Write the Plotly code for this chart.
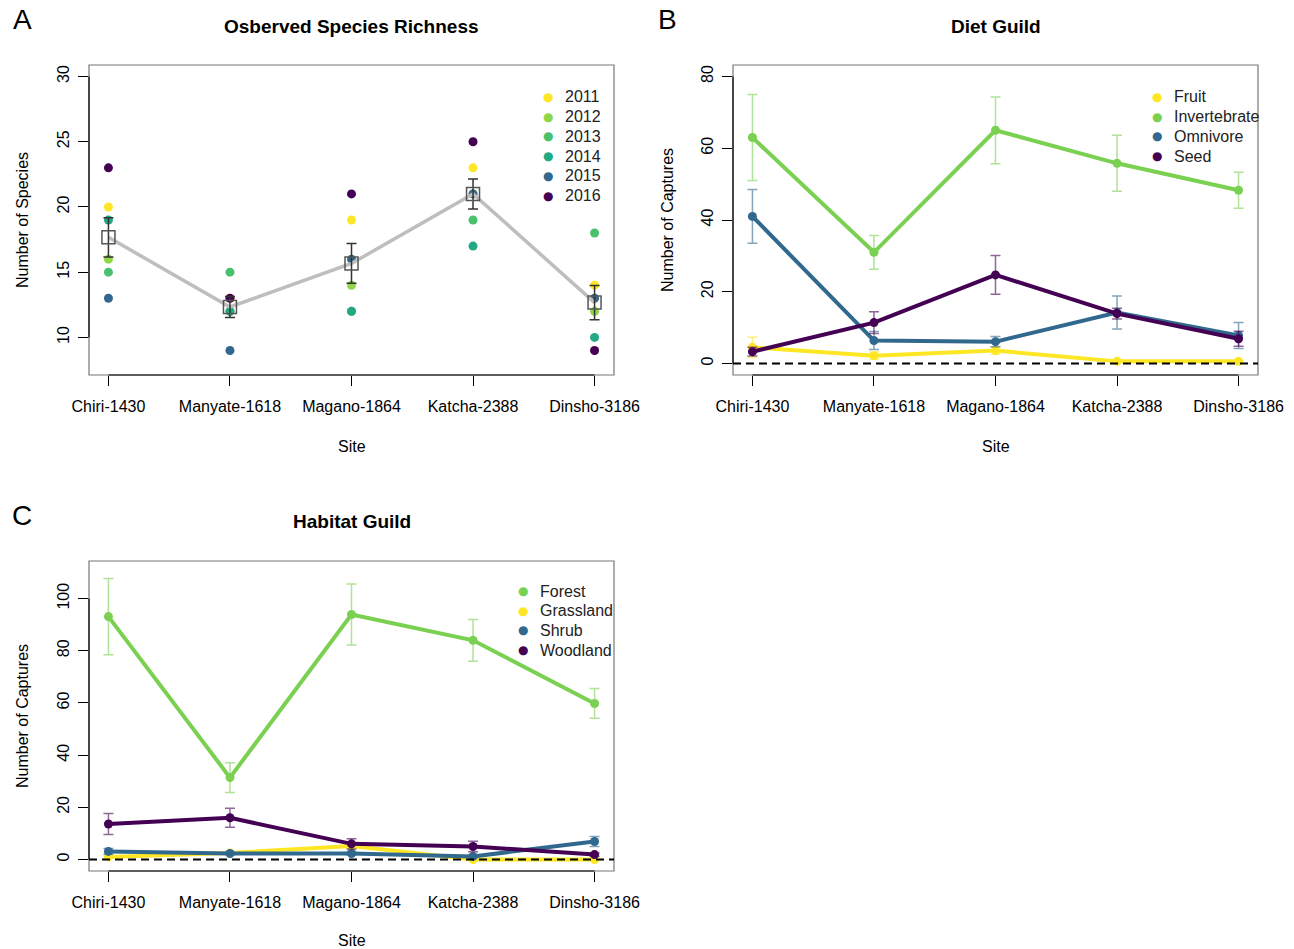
import plotly.graph_objects as go

# ---------------- data ----------------
sites = ["Chiri-1430", "Manyate-1618", "Magano-1864", "Katcha-2388", "Dinsho-3186"]
site_pos = [1, 2, 3, 4, 5]

years = ["2011", "2012", "2013", "2014", "2015", "2016"]
year_colors = ["#FDE725", "#8FD744", "#4AC16D", "#22A884", "#31688E", "#440154"]
rich_2011 = [20, 13, 19, 23, 14]
rich_2012 = [16, 12, 14, 21, 12]
rich_2013 = [15, 15, 12, 19, 18]
rich_2014 = [19, 12, 12, 17, 10]
rich_2015 = [13, 9, 16, 21, 13]
rich_2016 = [23, 13, 21, 25, 9]
rich_by_year = [rich_2011, rich_2012, rich_2013, rich_2014, rich_2015, rich_2016]
rich_mean = [17.67, 12.33, 15.67, 21.0, 12.67]
rich_se = [1.50, 0.80, 1.52, 1.15, 1.31]

diet_names = ["Fruit", "Invertebrate", "Omnivore", "Seed"]
diet_colors = ["#FDE725", "#7AD151", "#31688E", "#440154"]
diet_err_colors = ["rgba(253,231,37,0.6)", "rgba(122,209,81,0.6)",
                   "rgba(49,104,142,0.6)", "rgba(68,1,84,0.6)"]
fruit_mean = [4.5, 2.2, 3.6, 0.6, 0.6]
fruit_se = [2.8, 1.0, 1.0, 0.3, 0.3]
invert_mean = [63.0, 31.0, 65.0, 55.8, 48.3]
invert_se = [12.0, 4.7, 9.3, 7.8, 5.0]
omni_mean = [41.0, 6.4, 6.1, 14.2, 7.8]
omni_se = [7.5, 2.5, 1.4, 4.6, 3.6]
seed_mean = [3.3, 11.4, 24.7, 13.9, 6.9]
seed_se = [1.2, 3.0, 5.4, 1.5, 2.1]
diet_means = [fruit_mean, invert_mean, omni_mean, seed_mean]
diet_ses = [fruit_se, invert_se, omni_se, seed_se]

hab_names = ["Forest", "Grassland", "Shrub", "Woodland"]
hab_colors = ["#7AD151", "#FDE725", "#31688E", "#440154"]
hab_err_colors = ["rgba(122,209,81,0.6)", "rgba(253,231,37,0.6)",
                  "rgba(49,104,142,0.6)", "rgba(68,1,84,0.6)"]
forest_mean = [93.1, 31.4, 93.9, 84.0, 59.8]
forest_se = [14.6, 5.7, 11.7, 8.0, 5.7]
grass_mean = [1.0, 2.5, 5.2, 0.0, 0.0]
grass_se = [0.5, 0.5, 1.5, 0.3, 0.3]
shrub_mean = [3.1, 2.3, 2.3, 1.2, 6.9]
shrub_se = [1.1, 0.5, 0.6, 0.5, 1.9]
wood_mean = [13.6, 16.0, 6.0, 5.0, 1.9]
wood_se = [4.0, 3.6, 2.0, 2.0, 0.6]
hab_means = [forest_mean, grass_mean, shrub_mean, wood_mean]
hab_ses = [forest_se, grass_se, shrub_se, wood_se]

ticks_a = [10, 15, 20, 25, 30]
ticks_b = [0, 20, 40, 60, 80]
ticks_c = [0, 20, 40, 60, 80, 100]

# ---------------- figure ----------------
W, H = 1294, 949
FONT = "Liberation Sans, Arial, Helvetica, sans-serif"

def px_x(p):
    return p / W

def px_y(p):
    return 1 - p / H

fig = go.Figure()

# Panel A
for yname, col, vals in zip(years, year_colors, rich_by_year):
    fig.add_trace(go.Scatter(x=site_pos, y=vals, mode="markers", name=yname,
                             marker=dict(color=col, size=9),
                             xaxis="x", yaxis="y", showlegend=False))
fig.add_trace(go.Scatter(x=site_pos, y=rich_mean, mode="lines",
                         line=dict(color="#BEBEBE", width=3.5),
                         xaxis="x", yaxis="y", showlegend=False))
fig.add_trace(go.Scatter(x=site_pos, y=rich_mean, mode="markers",
                         marker=dict(symbol="square-open", size=13, color="#555555",
                                     line=dict(width=1.5, color="#555555")),
                         error_y=dict(type="data", array=rich_se, color="#333333",
                                      thickness=1.5, width=5),
                         xaxis="x", yaxis="y", showlegend=False))

# Panel B
for name, col, ecol, m, s in zip(diet_names, diet_colors, diet_err_colors, diet_means, diet_ses):
    fig.add_trace(go.Scatter(x=site_pos, y=m, mode="lines+markers", name=name,
                             line=dict(color=col, width=4),
                             marker=dict(color=col, size=9),
                             error_y=dict(type="data", array=s, color=ecol,
                                          thickness=1.5, width=5),
                             xaxis="x2", yaxis="y2", showlegend=False))

# Panel C
for name, col, ecol, m, s in zip(hab_names, hab_colors, hab_err_colors, hab_means, hab_ses):
    fig.add_trace(go.Scatter(x=site_pos, y=m, mode="lines+markers", name=name,
                             line=dict(color=col, width=4),
                             marker=dict(color=col, size=9),
                             error_y=dict(type="data", array=s, color=ecol,
                                          thickness=1.5, width=5),
                             xaxis="x3", yaxis="y3", showlegend=False))

# axes
common_x = dict(range=[0.84, 5.16], tickvals=site_pos, ticktext=sites, ticks="outside",
                ticklen=10, tickwidth=1, tickcolor="black", showgrid=False,
                zeroline=False, showline=False, tickfont=dict(size=16, color="black"),
                ticklabelstandoff=7, automargin=False, fixedrange=True)
common_y = dict(ticks="outside", ticklen=10, tickwidth=1, tickcolor="black",
                showgrid=False, zeroline=False, showline=False, tickangle=-90,
                tickfont=dict(size=16, color="black"), ticklabelstandoff=3,
                automargin=False, fixedrange=True)

dom_ax = [px_x(89), px_x(614)]
dom_bx = [px_x(733), px_x(1258)]
dom_aby = [px_y(375), px_y(65)]
dom_cy = [px_y(871), px_y(561)]

fig.update_layout(
    xaxis=dict(common_x, domain=dom_ax, anchor="y"),
    yaxis=dict(common_y, domain=dom_aby, anchor="x", range=[7.12, 30.88], tickvals=ticks_a),
    xaxis2=dict(common_x, domain=dom_bx, anchor="y2"),
    yaxis2=dict(common_y, domain=dom_aby, anchor="x2", range=[-3.2, 83.2], tickvals=ticks_b),
    xaxis3=dict(common_x, domain=dom_ax, anchor="y3"),
    yaxis3=dict(common_y, domain=dom_cy, anchor="x3", range=[-4.4, 114.4], tickvals=ticks_c),
)

shapes = []
for xa, ya, yt in [("x", "y", ticks_a), ("x2", "y2", ticks_b), ("x3", "y3", ticks_c)]:
    shapes.append(dict(type="rect", xref=xa + " domain", yref=ya + " domain",
                       x0=0, x1=1, y0=0, y1=1, line=dict(color="#777777", width=1.2)))
    shapes.append(dict(type="line", xref=xa + " domain", yref=ya, x0=0, x1=0,
                       y0=yt[0], y1=yt[-1], line=dict(color="black", width=1.2)))
    shapes.append(dict(type="line", xref=xa, yref=ya + " domain", x0=site_pos[0], x1=site_pos[-1],
                       y0=0, y1=0, line=dict(color="black", width=1.2)))
for xa, ya in [("x2", "y2"), ("x3", "y3")]:
    shapes.append(dict(type="line", xref=xa + " domain", yref=ya, x0=0, x1=1, y0=0, y1=0,
                       line=dict(color="black", width=2, dash="8px,5px")))

annotations = []
def ann(text, xp, yp, size=16, bold=False, angle=0, xanchor="center", color="black"):
    annotations.append(dict(text=("<b>%s</b>" % text) if bold else text,
                            x=px_x(xp), y=px_y(yp), xref="paper", yref="paper",
                            showarrow=False, xanchor=xanchor, yanchor="middle",
                            textangle=angle, font=dict(size=size, color=color, family=FONT)))

ann("Osberved Species Richness", 351.5, 26, size=19, bold=True)
ann("Diet Guild", 995.5, 26, size=19, bold=True)
ann("Habitat Guild", 351.5, 521, size=19, bold=True)
ann("A", 22, 20, size=28)
ann("B", 667, 20, size=28)
ann("C", 22, 515, size=28)
ann("Site", 351.5, 446)
ann("Site", 995.5, 446)
ann("Site", 351.5, 940)
ann("Number of Species", 22, 220, angle=-90)
ann("Number of Captures", 667, 220, angle=-90)
ann("Number of Captures", 22, 716, angle=-90)

# legends (dot + label), R-style compact spacing
def legend_block(names, colors, x_dot, y_first, step=19.7):
    for i, (nm, col) in enumerate(zip(names, colors)):
        yy = y_first + i * step
        annotations.append(dict(text="\u25CF", x=px_x(x_dot), y=px_y(yy), xref="paper",
                                yref="paper", showarrow=False, xanchor="center",
                                yanchor="middle", font=dict(size=12, color=col,
                                                            family="DejaVu Sans")))
        ann(nm, x_dot + 15, yy, xanchor="left", color="#222222")

legend_block(years, year_colors, 548, 97)
legend_block(diet_names, diet_colors, 1157, 97)
legend_block(hab_names, hab_colors, 523, 591)

fig.update_layout(
    width=W, height=H, margin=dict(l=0, r=0, t=0, b=0, autoexpand=False),
    paper_bgcolor="white", plot_bgcolor="white", showlegend=False,
    font=dict(family=FONT, size=16, color="black"),
    shapes=shapes, annotations=annotations,
)

fig.write_html("out.html", config={"displayModeBar": False},
               post_script="document.body.style.margin='0px';")
